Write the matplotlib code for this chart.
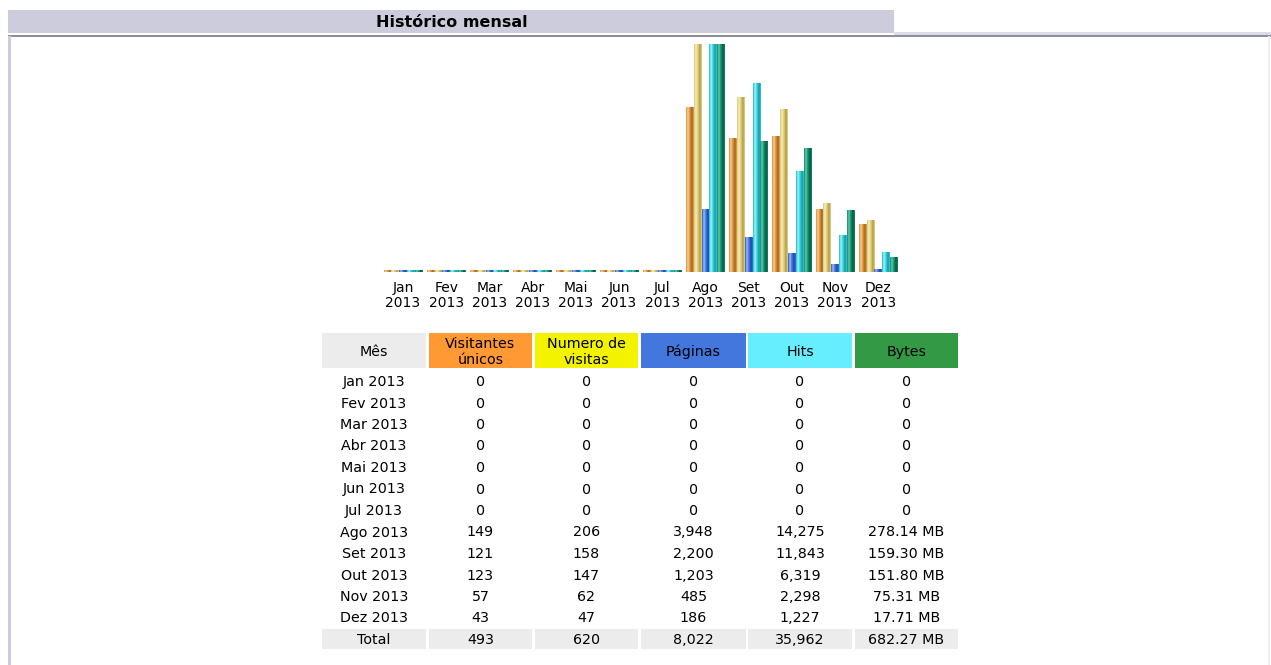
import matplotlib
matplotlib.use("Agg")
import matplotlib.pyplot as plt
from matplotlib.patches import Rectangle
from matplotlib.colors import to_rgb
import numpy as np

# ---------------- data ----------------
months = ["Jan", "Fev", "Mar", "Abr", "Mai", "Jun", "Jul", "Ago", "Set", "Out", "Nov", "Dez"]
year = "2013"
visitors = [0, 0, 0, 0, 0, 0, 0, 149, 121, 123, 57, 43]
visits = [0, 0, 0, 0, 0, 0, 0, 206, 158, 147, 62, 47]
pages = [0, 0, 0, 0, 0, 0, 0, 3948, 2200, 1203, 485, 186]
hits = [0, 0, 0, 0, 0, 0, 0, 14275, 11843, 6319, 2298, 1227]
bytes_mb = [0, 0, 0, 0, 0, 0, 0, 278.14, 159.30, 151.80, 75.31, 17.71]
bytes_txt = ["0", "0", "0", "0", "0", "0", "0", "278.14 MB", "159.30 MB", "151.80 MB", "75.31 MB", "17.71 MB"]
totals = ["Total", "493", "620", "8,022", "35,962", "682.27 MB"]
headers = ["Mês", "Visitantes\núnicos", "Numero de\nvisitas", "Páginas", "Hits", "Bytes"]
header_colors = ["#ECECEC", "#FF9933", "#F3F300", "#4477DD", "#66EEFF", "#339944"]
title = "Histórico mensal"

W, H = 1271, 665
fig = plt.figure(figsize=(W / 100, H / 100), dpi=100)
fig.patch.set_facecolor("white")

# background / frame axes in pixel coords
bg = fig.add_axes([0, 0, 1, 1])
bg.set_xlim(0, W)
bg.set_ylim(H, 0)
bg.axis("off")
bg.add_patch(Rectangle((8, 10), 886, 23, facecolor="#CCCCDD", edgecolor="none"))
bg.add_patch(Rectangle((894, 32), W - 894, 3, facecolor="#DCDCE6", edgecolor="none"))
bg.add_patch(Rectangle((8, 34.5), W - 8, 2, facecolor="#8E8E9C", edgecolor="none"))
bg.add_patch(Rectangle((8, 36), 3, H - 36, facecolor="#CCCCDD", edgecolor="none"))
bg.add_patch(Rectangle((1268, 36), 2, H - 36, facecolor="#EEEEF2", edgecolor="none"))
bg.text(452, 27, title, ha="center", va="baseline", fontsize=11.5, fontweight="bold", color="black")

# ---------------- bar chart ----------------
group_px = 43.2
base_y, top_y = 272, 44
cx0 = 403
ax = fig.add_axes([(cx0 - group_px / 2) / W, (H - base_y) / H, 12 * group_px / W, (base_y - top_y) / H])
ax.set_xlim(-0.5, 11.5)
ax.set_ylim(0, 1)
ax.axis("off")

vmax1 = max(max(visitors), max(visits))
vmax2 = max(max(pages), max(hits))
vmax3 = max(bytes_mb)
series = [
    (np.array(visitors) / vmax1, ["#E2A050", "#F8D09A", "#E8A04C", "#C88436", "#9E6420", "#D8964A"]),
    (np.array(visits) / vmax1, ["#E0D084", "#F8EEBC", "#E6D488", "#D2BE6A", "#B09A48", "#D8C676"]),
    (np.array(pages) / vmax2, ["#3E72D8", "#A4C0F6", "#5A88E4", "#3A68D0", "#1C46A8", "#3868CC"]),
    (np.array(hits) / vmax2, ["#34C8D2", "#A8F6F8", "#56E0E8", "#30C4D0", "#1498A8", "#30BCC8"]),
    (np.array(bytes_mb) / vmax3, ["#24987A", "#6CCAAA", "#22A080", "#0A8464", "#005C40", "#187A5C"]),
]
bw = 7.8 / group_px
x = np.arange(len(months))
min_h = 0.008
for k, (vals, cols) in enumerate(series):
    hts = np.maximum(vals, min_h)
    bars = ax.bar(x + (k - 2) * bw, hts, width=bw, color=cols[2], edgecolor="none")
    grad = np.array([[to_rgb(c) for c in cols]])
    for b in bars:
        x0, y0 = b.get_x(), b.get_y()
        w, h = b.get_width(), b.get_height()
        im = ax.imshow(grad, extent=[x0, x0 + w, y0, y0 + h], aspect="auto",
                       interpolation="bilinear", zorder=3)
        im.set_clip_path(b)

for i, m in enumerate(months):
    px = cx0 + i * group_px
    bg.text(px, 292, m, ha="center", va="baseline", fontsize=10, color="black")
    bg.text(px, 307, year, ha="center", va="baseline", fontsize=10, color="black")

# ---------------- table ----------------
fs = 10.3
cols_x = [(322, 426), (429, 532), (535, 638), (641, 746), (748, 852), (855, 958)]
for (xa, xb), hd, hc in zip(cols_x, headers, header_colors):
    bg.add_patch(Rectangle((xa, 333), xb - xa, 35, facecolor=hc, edgecolor="none"))
    lines = hd.split("\n")
    if len(lines) == 1:
        bg.text((xa + xb) / 2, 356, lines[0], ha="center", va="baseline", fontsize=fs, color="black")
    else:
        bg.text((xa + xb) / 2, 348, lines[0], ha="center", va="baseline", fontsize=fs, color="black")
        bg.text((xa + xb) / 2, 364, lines[1], ha="center", va="baseline", fontsize=fs, color="black")

row0, row_h = 386, 21.5
fmt = lambda v: f"{v:,}"
for i, m in enumerate(months):
    y = row0 + i * row_h
    row = [f"{m} {year}", fmt(visitors[i]), fmt(visits[i]), fmt(pages[i]), fmt(hits[i]), bytes_txt[i]]
    for (xa, xb), t in zip(cols_x, row):
        bg.text((xa + xb) / 2, y, t, ha="center", va="baseline", fontsize=fs, color="black")

yt = row0 + len(months) * row_h
for (xa, xb), t in zip(cols_x, totals):
    bg.add_patch(Rectangle((xa, yt - 15), xb - xa, 20, facecolor="#ECECEC", edgecolor="none"))
    bg.text((xa + xb) / 2, yt, t, ha="center", va="baseline", fontsize=fs, color="black")

fig.savefig("out.png", dpi=100, facecolor="white")
